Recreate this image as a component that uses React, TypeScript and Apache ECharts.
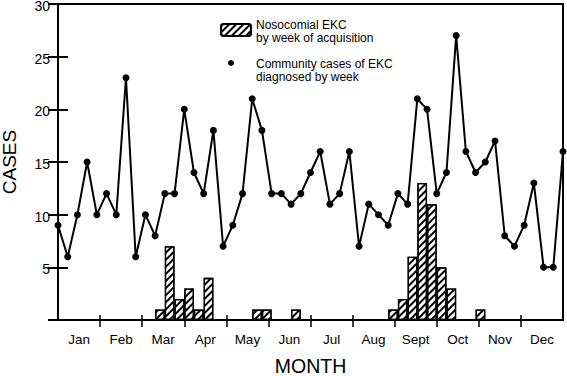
import React, { useEffect, useRef } from "react";
import * as echarts from "echarts";

const weekPoints = Array.from({ length: 53 }, (_, i) => String(i));
const weekBins = Array.from({ length: 52 }, (_, i) => String(i));

// Community cases of EKC diagnosed by week (53 weekly points)
const communityCases = [
  9, 6, 10, 15, 10, 12, 10, 23, 6, 10,
  8, 12, 12, 20, 14, 12, 18, 7, 9, 12,
  21, 18, 12, 12, 11, 12, 14, 16, 11, 12,
  16, 7, 11, 10, 9, 12, 11, 21, 20, 12,
  14, 27, 16, 14, 15, 17, 8, 7, 9, 13,
  5, 5, 16,
];

// Nosocomial EKC by week of acquisition (52 weekly bins)
const nosocomialCases = [
  0, 0, 0, 0, 0, 0, 0, 0, 0, 0,
  1, 7, 2, 3, 1, 4, 0, 0, 0, 0,
  1, 1, 0, 0, 1, 0, 0, 0, 0, 0,
  0, 0, 0, 0, 1, 2, 6, 13, 11, 5,
  3, 0, 0, 1, 0, 0, 0, 0, 0, 0,
  0, 0,
];

const months = ["Jan", "Feb", "Mar", "Apr", "May", "Jun", "Jul", "Aug", "Sept", "Oct", "Nov", "Dec"];
const monthBoundaries = [1, 2, 3, 4, 5, 6, 7, 8, 9, 10, 11];
const monthCenters = months.map((_, i) => i + 0.5);

const barSeriesName = "Nosocomial EKC";
const lineSeriesName = "Community cases of EKC";
const legendBarText = "Nosocomial EKC\nby week of acquisition";
const legendLineText = "Community cases of EKC\ndiagnosed by week";

const FONT = "'Liberation Sans', Arial, Helvetica, sans-serif";

export default function App() {
  const ref = useRef<HTMLDivElement>(null);
  useEffect(() => {
    if (!ref.current) return;
    const chart = echarts.init(ref.current, undefined, { renderer: "svg" });
    const hatch = {
      symbol: "rect",
      symbolSize: 1,
      dashArrayX: [1, 0],
      dashArrayY: [1.4, 2.6],
      rotation: -Math.PI / 4,
      color: "#000",
      backgroundColor: "#fff",
    };
    const monthAxisBase = {
      type: "value",
      gridIndex: 0,
      position: "bottom",
      min: 0,
      max: 12,
      splitLine: { show: false },
    };
    chart.setOption({
      animation: false,
      backgroundColor: "#fff",
      textStyle: { fontFamily: FONT, color: "#000" },
      grid: {
        left: 58,
        top: 4,
        width: 505,
        height: 316,
        show: true,
        borderColor: "#000",
        borderWidth: 2,
        backgroundColor: "transparent",
        outerBoundsMode: "none",
      },
      legend: {
        data: [barSeriesName],
        left: 215,
        top: 18,
        itemWidth: 30,
        itemHeight: 12,
        selectedMode: false,
        formatter: () => "",
      },
      xAxis: [
        { type: "category", data: weekPoints, boundaryGap: false, show: false, gridIndex: 0 },
        { type: "category", data: weekBins, boundaryGap: true, show: false, gridIndex: 0 },
        {
          ...monthAxisBase,
          axisLine: { show: true, lineStyle: { color: "#000", width: 2 } },
          axisTick: { show: true, inside: false, length: 7, customValues: monthBoundaries, lineStyle: { color: "#000", width: 1.5 } },
          axisLabel: {
            show: true,
            customValues: monthCenters,
            formatter: (v: number) => months[Math.floor(v)] ?? "",
            fontSize: 13.5,
            color: "#000",
            fontFamily: FONT,
            margin: 12,
          },
          name: "MONTH",
          nameLocation: "middle",
          nameGap: 37,
          nameTextStyle: { fontSize: 19.5, color: "#000", fontFamily: FONT, lineHeight: 18 },
        },
        {
          ...monthAxisBase,
          axisLine: { show: false },
          axisTick: { show: true, inside: true, length: 5, customValues: monthBoundaries, lineStyle: { color: "#000", width: 1.5 } },
          axisLabel: { show: false },
        },
      ],
      yAxis: [
        {
          type: "value",
          min: 0,
          max: 30,
          interval: 5,
          position: "left",
          splitLine: { show: false },
          axisLine: { show: true, lineStyle: { color: "#000", width: 2 } },
          axisTick: { show: true, inside: true, length: 10, lineStyle: { color: "#000", width: 2 } },
          axisLabel: {
            color: "#000",
            fontSize: 14,
            fontFamily: FONT,
            margin: 8,
            verticalAlign: "top",
            lineHeight: 4,
            formatter: (v: number) => (v === 0 ? "" : String(v)),
          },
          name: "CASES",
          nameLocation: "middle",
          nameGap: 39,
          nameTextStyle: { fontSize: 19, color: "#000", fontFamily: FONT },
        },
        {
          type: "value",
          min: 0,
          max: 30,
          interval: 5,
          position: "right",
          splitLine: { show: false },
          axisLine: { show: true, lineStyle: { color: "#000", width: 2 } },
          axisTick: { show: true, inside: true, length: 10, lineStyle: { color: "#000", width: 2 } },
          axisLabel: { show: false },
        },
      ],
      graphic: [
        {
          type: "text",
          x: 256,
          y: 18,
          style: { text: legendBarText, font: `12px ${FONT}`, lineHeight: 13, fill: "#000", verticalAlign: "top" },
        },
        {
          type: "circle",
          shape: { cx: 231, cy: 63, r: 3 },
          style: { fill: "#000" },
        },
        {
          type: "text",
          x: 256,
          y: 57.5,
          style: { text: legendLineText, font: `12px ${FONT}`, lineHeight: 13, fill: "#000", verticalAlign: "top" },
        },
      ],
      series: [
        {
          name: barSeriesName,
          type: "bar",
          xAxisIndex: 1,
          yAxisIndex: 0,
          data: nosocomialCases.map((v) => (v === 0 ? "-" : v)),
          barWidth: "100%",
          barGap: "0%",
          itemStyle: { color: "#fff", borderColor: "#000", borderWidth: 1.3, decal: hatch },
          z: 2,
        },
        {
          name: lineSeriesName,
          type: "line",
          xAxisIndex: 0,
          yAxisIndex: 0,
          data: communityCases,
          symbol: "circle",
          symbolSize: 7,
          showSymbol: true,
          showAllSymbol: true,
          itemStyle: { color: "#000" },
          lineStyle: { color: "#000", width: 2 },
          z: 3,
        },
      ],
    });
    return () => chart.dispose();
  }, []);
  return (
    <div
      ref={ref}
      style={{ position: "absolute", left: 0, top: 0, width: 567, height: 376 }}
    />
  );
}
